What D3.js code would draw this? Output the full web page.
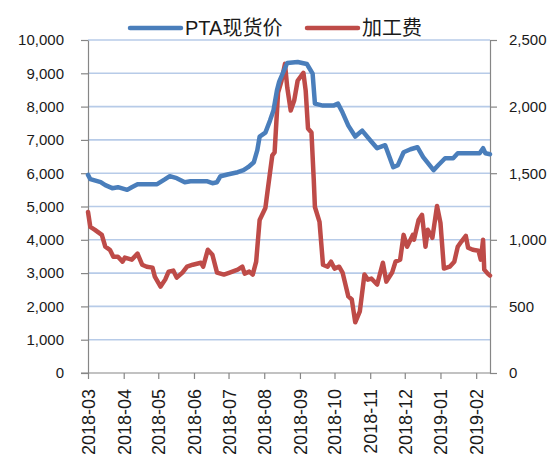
<!DOCTYPE html>
<html>
<head>
<meta charset="utf-8">
<script src="https://cdn.jsdelivr.net/npm/d3@7"></script>
<style>
  body { margin: 0; background: #fff; }
  svg { display: block; }
</style>
</head>
<body>
<div id="chart"></div>
<script>
// Data
const priceDates = ['2018-03-01','2018-03-03','2018-03-12','2018-03-16','2018-03-22','2018-03-27','2018-04-04','2018-04-08','2018-04-13','2018-04-30','2018-05-07','2018-05-11','2018-05-17','2018-05-24','2018-05-29','2018-06-12','2018-06-17','2018-06-21','2018-06-24','2018-07-01','2018-07-09','2018-07-14','2018-07-18','2018-07-23','2018-07-26','2018-07-28','2018-08-02','2018-08-06','2018-08-09','2018-08-12','2018-08-14','2018-08-21','2018-08-30','2018-09-07','2018-09-12','2018-09-14','2018-09-21','2018-09-30','2018-10-04','2018-10-08','2018-10-13','2018-10-19','2018-10-25','2018-11-01','2018-11-07','2018-11-14','2018-11-21','2018-11-25','2018-11-30','2018-12-06','2018-12-12','2018-12-17','2018-12-26','2018-12-30','2019-01-05','2019-01-12','2019-01-16','2019-02-04','2019-02-07','2019-02-09','2019-02-13'];
const priceValues = [5950,5820,5730,5640,5550,5580,5500,5580,5670,5670,5820,5910,5850,5730,5760,5760,5700,5730,5910,5970,6030,6090,6180,6330,6690,7100,7220,7580,7880,8480,8750,9310,9340,9280,8990,8090,8030,8030,8090,7820,7430,7100,7280,6990,6750,6840,6180,6240,6630,6720,6780,6480,6090,6240,6450,6450,6600,6600,6750,6600,6570];

const feeDates = ['2018-03-01','2018-03-03','2018-03-07','2018-03-13','2018-03-16','2018-03-20','2018-03-23','2018-03-27','2018-03-31','2018-04-02','2018-04-08','2018-04-13','2018-04-17','2018-04-21','2018-04-26','2018-04-28','2018-05-03','2018-05-07','2018-05-10','2018-05-14','2018-05-17','2018-05-22','2018-05-26','2018-05-31','2018-06-07','2018-06-09','2018-06-13','2018-06-17','2018-06-21','2018-06-27','2018-07-02','2018-07-09','2018-07-13','2018-07-15','2018-07-19','2018-07-22','2018-07-25','2018-07-28','2018-08-02','2018-08-04','2018-08-08','2018-08-10','2018-08-13','2018-08-16','2018-08-19','2018-08-21','2018-08-24','2018-08-27','2018-08-30','2018-09-04','2018-09-06','2018-09-08','2018-09-11','2018-09-13','2018-09-14','2018-09-18','2018-09-21','2018-09-25','2018-09-28','2018-10-01','2018-10-05','2018-10-08','2018-10-13','2018-10-16','2018-10-19','2018-10-23','2018-10-27','2018-10-30','2018-11-02','2018-11-07','2018-11-12','2018-11-15','2018-11-20','2018-11-23','2018-11-27','2018-11-30','2018-12-03','2018-12-08','2018-12-09','2018-12-13','2018-12-16','2018-12-19','2018-12-21','2018-12-25','2018-12-29','2019-01-01','2019-01-04','2019-01-09','2019-01-13','2019-01-16','2019-01-19','2019-01-23','2019-01-25','2019-01-29','2019-02-03','2019-02-05','2019-02-07','2019-02-08','2019-02-11','2019-02-13'];
const feeValues = [1209,1097,1075,1037,948,925,873,873,836,866,851,896,813,798,791,724,649,701,761,769,716,754,798,813,828,798,925,888,754,739,754,776,798,746,761,739,836,1149,1239,1373,1634,1656,2104,2194,2321,2142,1970,2045,2194,2254,2119,1836,1806,1450,1246,1134,813,798,836,784,798,754,575,552,381,463,739,701,709,664,828,686,754,836,851,1037,948,1037,1000,1149,1187,948,1075,1015,1254,1127,784,798,836,948,985,1030,940,925,918,851,1000,776,746,731];

const monthLabels = ['2018-03','2018-04','2018-05','2018-06','2018-07','2018-08','2018-09','2018-10','2018-11','2018-12','2019-01','2019-02'];
const leftTicks = [0,1000,2000,3000,4000,5000,6000,7000,8000,9000,10000];
const rightTicks = [0,500,1000,1500,2000,2500];
const seriesNames = ['PTA现货价', '加工费'];
const seriesColors = ['#4a7ebb', '#be4b48'];

const svgWidth = 553, svgHeight = 457;
const plotLeft = 88, plotRight = 490, plotTop = 40, plotBottom = 373;

const parseDay = d3.timeParse('%Y-%m-%d');
const parseMonth = d3.timeParse('%Y-%m');

const svg = d3.select('#chart').append('svg')
  .attr('width', svgWidth)
  .attr('height', svgHeight);

// Scales
const x = d3.scaleTime()
  .domain([parseDay('2018-03-01'), parseDay('2019-02-13')])
  .range([plotLeft, plotRight]);
const yLeft = d3.scaleLinear().domain([0, 10000]).range([plotBottom, plotTop]);
const yRight = d3.scaleLinear().domain([0, 2500]).range([plotBottom, plotTop]);

// Gridlines
svg.append('g')
  .selectAll('line')
  .data(leftTicks.slice(1))
  .enter()
  .append('line')
  .attr('x1', plotLeft).attr('x2', plotRight)
  .attr('y1', d => yLeft(d)).attr('y2', d => yLeft(d))
  .style('stroke', '#b7cbe8')
  .style('stroke-width', 1.6);

const fmt = d3.format(',');
const axisFont = '"Liberation Sans", Arial, sans-serif';

// Left axis
const gLeft = svg.append('g')
  .attr('transform', 'translate(' + plotLeft + ',0)')
  .call(d3.axisLeft(yLeft).tickValues(leftTicks).tickFormat(fmt).tickSizeInner(7).tickSizeOuter(0).tickPadding(17));

// Right axis
const gRight = svg.append('g')
  .attr('transform', 'translate(' + plotRight + ',0)')
  .call(d3.axisRight(yRight).tickValues(rightTicks).tickFormat(fmt).tickSizeInner(7).tickSizeOuter(0).tickPadding(12));

// Bottom axis
const gBottom = svg.append('g')
  .attr('transform', 'translate(0,' + plotBottom + ')')
  .call(d3.axisBottom(x).tickValues(monthLabels.map(parseMonth)).tickFormat(d3.timeFormat('%Y-%m')).tickSizeInner(6).tickSizeOuter(0));

gBottom.selectAll('text')
  .attr('transform', 'rotate(-90)')
  .attr('text-anchor', 'end')
  .attr('x', -16)
  .attr('y', 0)
  .attr('dy', '0.36em')
  .style('font-size', '18px');

// extend x axis line slightly left, like the original
gBottom.select('.domain').attr('d', 'M' + (plotLeft - 7) + ',0H' + plotRight);

[gLeft, gRight, gBottom].forEach(g => {
  g.selectAll('.domain, line').style('stroke', '#868686').style('stroke-width', 1.2);
  g.selectAll('text').style('font-family', axisFont).style('fill', '#1a1a1a');
});
gLeft.selectAll('text').style('font-size', '15px');
gRight.selectAll('text').style('font-size', '15px');

// Lines
const price = priceDates.map((d, i) => ({ date: parseDay(d), value: priceValues[i] }));
const fee = feeDates.map((d, i) => ({ date: parseDay(d), value: feeValues[i] }));

const linePrice = d3.line().x(d => x(d.date)).y(d => yLeft(d.value));
const lineFee = d3.line().x(d => x(d.date)).y(d => yRight(d.value));

svg.append('path')
  .datum(fee)
  .attr('d', lineFee)
  .style('fill', 'none')
  .style('stroke', seriesColors[1])
  .style('stroke-width', 4.5)
  .style('stroke-linejoin', 'round')
  .style('stroke-linecap', 'round');

svg.append('path')
  .datum(price)
  .attr('d', linePrice)
  .style('fill', 'none')
  .style('stroke', seriesColors[0])
  .style('stroke-width', 4.5)
  .style('stroke-linejoin', 'round')
  .style('stroke-linecap', 'round');

// Legend
const legendX = [130, 307];
const legend = svg.append('g');
seriesNames.forEach((name, i) => {
  legend.append('line')
    .attr('x1', legendX[i]).attr('x2', legendX[i] + 51)
    .attr('y1', 28).attr('y2', 28)
    .style('stroke', seriesColors[i])
    .style('stroke-width', 4.5)
    .style('stroke-linecap', 'round');
  legend.append('text')
    .attr('x', legendX[i] + 55)
    .attr('y', 28)
    .attr('dy', '0.36em')
    .style('font-family', '"Liberation Sans", "Noto Sans CJK SC", sans-serif')
    .style('font-size', '20px')
    .style('fill', '#1a1a1a')
    .text(name);
});
</script>
</body>
</html>
